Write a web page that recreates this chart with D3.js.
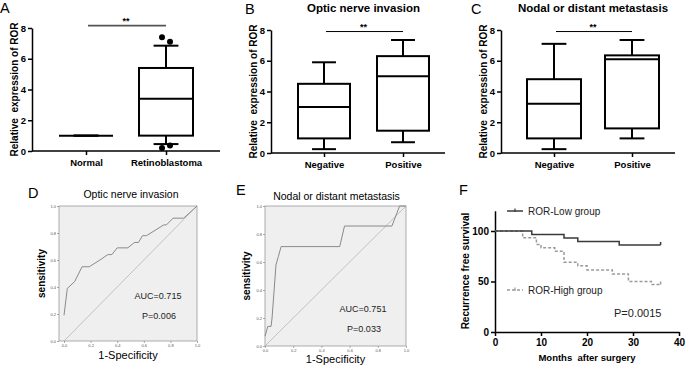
<!DOCTYPE html>
<html lang="en">
<head>
<meta charset="UTF-8">
<title>ROR expression in retinoblastoma</title>
<script src="https://d3js.org/d3.v7.min.js"></script>
<style>
  body { margin: 0; background: #fff; }
  svg { display: block; font-family: "Liberation Sans", Arial, sans-serif; }
  .pre { white-space: pre; }
</style>
</head>
<body>
<svg id="fig" width="685" height="366"></svg>
<script>
// box plots: [min, q1, median, q3, max]
const catsA = ["Normal", "Retinoblastoma"];
const boxesA = [[1, 1, 1, 1, 1], [0.45, 1.0, 3.4, 5.4, 6.85]];
const outliersA = [[], [7.4, 7.1, 0.2, 0.35]];

const catsBC = ["Negative", "Positive"];
const boxesB = [[0.25, 0.95, 3.0, 4.5, 5.9], [0.7, 1.45, 5.0, 6.3, 7.35]];
const boxesC = [[0.25, 0.95, 3.2, 4.8, 7.1], [0.95, 1.6, 6.1, 6.35, 7.35]];
const boxTicks = [0, 2, 4, 6, 8];

// ROC curves: [1-specificity, sensitivity]
const rocD = [[0, 0.19], [0.025, 0.39], [0.08, 0.44], [0.136, 0.55], [0.19, 0.55], [0.27, 0.60],
  [0.33, 0.64], [0.36, 0.64], [0.40, 0.69], [0.48, 0.69], [0.53, 0.73], [0.56, 0.73], [0.59, 0.78],
  [0.62, 0.78], [0.75, 0.86], [0.77, 0.86], [0.82, 0.91], [0.90, 0.91], [1, 1]];
const rocE = [[0, 0.07], [0.02, 0.14], [0.043, 0.14], [0.05, 0.2], [0.078, 0.58], [0.095, 0.64],
  [0.114, 0.71], [0.53, 0.71], [0.564, 0.857], [0.90, 0.857], [0.955, 1], [1, 1]];
const rocTicks = [0, 0.2, 0.4, 0.6, 0.8, 1.0];

// Kaplan-Meier: [month, % recurrence free]
const kmLow = [[0, 100], [8, 96.6], [15, 93.1], [18, 89.7], [27, 86.2], [36, 86.2]];
const kmHigh = [[0, 100], [6, 93.3], [9, 86.7], [10, 83.3], [13, 80], [15, 69], [18, 65.5],
  [20, 61.5], [25.5, 57.5], [29, 50], [34, 47], [36, 47]];
const kmXTicks = [0, 10, 20, 30, 40];
const kmYTicks = [0, 50, 100];

const svg = d3.select("#fig");

function letter(x, y, t) {
  svg.append("text").attr("x", x).attr("y", y).attr("font-size", 14.5).text(t);
}

function boxPanel(p) {
  const g = svg.append("g");
  const x = d3.scalePoint().domain(p.cats).range([p.left + p.c0, p.left + p.c1]);
  const y = d3.scaleLinear().domain([0, 8]).range([p.bottom, p.top]);

  const ya = g.append("g").attr("transform", `translate(${p.left},0)`)
    .call(d3.axisLeft(y).tickValues(boxTicks).tickSize(4).tickSizeOuter(0).tickPadding(2).tickFormat(d3.format("d")));
  const xa = g.append("g").attr("transform", `translate(0,${p.bottom})`)
    .call(d3.axisBottom(x).tickSize(4).tickPadding(4));
  xa.select(".domain").remove();
  g.append("line").attr("x1", p.left).attr("x2", p.left + p.end)
    .attr("y1", p.bottom).attr("y2", p.bottom).attr("stroke", "#000").attr("stroke-width", 1.5);
  [ya, xa].forEach(a => {
    a.selectAll("line, path").attr("stroke", "#000").attr("stroke-width", 1.5);
    a.selectAll("text").attr("font-size", 9.5).attr("font-weight", "bold")
      .attr("font-family", "Liberation Sans, Arial, sans-serif").attr("fill", "#000");
  });

  const w = p.boxW;
  p.boxes.forEach((b, i) => {
    const cx = x(p.cats[i]);
    const [mn, q1, md, q3, mx] = b;
    const s = g.append("g").attr("stroke", "#000").attr("stroke-width", 2).attr("fill", "none");
    s.append("line").attr("x1", cx).attr("x2", cx).attr("y1", y(mn)).attr("y2", y(q1));
    s.append("line").attr("x1", cx).attr("x2", cx).attr("y1", y(q3)).attr("y2", y(mx));
    s.append("line").attr("x1", cx - w * 0.23).attr("x2", cx + w * 0.23).attr("y1", y(mn)).attr("y2", y(mn));
    s.append("line").attr("x1", cx - w * 0.23).attr("x2", cx + w * 0.23).attr("y1", y(mx)).attr("y2", y(mx));
    s.append("rect").attr("x", cx - w / 2).attr("width", w).attr("y", y(q3)).attr("height", y(q1) - y(q3));
    s.append("line").attr("x1", cx - w / 2).attr("x2", cx + w / 2).attr("y1", y(md)).attr("y2", y(md));
    (p.outliers ? p.outliers[i] : []).forEach((v, j) => {
      g.append("circle").attr("cx", cx + (j % 2 ? 4 : -4)).attr("cy", y(v)).attr("r", 3).attr("fill", "#000");
    });
  });

  // significance bar
  const sy = y(p.sig);
  g.append("line").attr("x1", x(p.cats[0]) + 2).attr("x2", x(p.cats[1]))
    .attr("y1", sy).attr("y2", sy).attr("stroke", p.sigColor).attr("stroke-width", p.sigW);
  g.append("text").attr("x", (x(p.cats[0]) + x(p.cats[1])) / 2).attr("y", sy - 2)
    .attr("text-anchor", "middle").attr("font-size", 9).attr("font-weight", "bold").text("**");

  g.append("text").attr("class", "pre")
    .attr("transform", `translate(${p.left - 14},${(p.bottom + p.top) / 2}) rotate(-90)`)
    .attr("text-anchor", "middle").attr("font-size", 10).attr("font-weight", "bold")
    .text("Relative  expression of ROR");
  if (p.title) {
    g.append("text").attr("x", (x(p.cats[0]) + x(p.cats[1])) / 2).attr("y", 12)
      .attr("text-anchor", "middle").attr("font-size", 11.5).attr("font-weight", "bold").text(p.title);
  }
}

function rocPanel(p) {
  const g = svg.append("g");
  const x = d3.scaleLinear().domain([0, 1]).range([p.x0, p.right]);
  const y = d3.scaleLinear().domain([0, 1]).range([p.bottom, p.top]);
  g.append("rect").attr("x", p.left).attr("y", p.top).attr("width", p.right - p.left)
    .attr("height", p.bottom - p.top).attr("fill", "#efefef").attr("stroke", "#999").attr("stroke-width", 0.8);
  const ya = g.append("g").attr("transform", `translate(${p.left},0)`)
    .call(d3.axisLeft(y).tickValues(rocTicks).tickSize(2).tickPadding(1).tickFormat(d3.format(".1f")));
  const xa = g.append("g").attr("transform", `translate(0,${p.bottom})`)
    .call(d3.axisBottom(x).tickValues(rocTicks).tickSize(2).tickPadding(1).tickFormat(d3.format(".1f")));
  [ya, xa].forEach(a => {
    a.select(".domain").remove();
    a.selectAll("line").attr("stroke", "#777").attr("stroke-width", 0.6);
    a.selectAll("text").attr("font-size", 4).attr("fill", "#555")
      .attr("font-family", "Liberation Sans, Arial, sans-serif");
  });
  g.append("line").attr("x1", x(0)).attr("y1", y(0)).attr("x2", x(1)).attr("y2", y(1))
    .attr("stroke", "#b5b5b5").attr("stroke-width", 0.8);
  g.append("path").datum(p.data)
    .attr("d", d3.line().x(d => x(d[0])).y(d => y(d[1])))
    .attr("fill", "none").attr("stroke", "#8a8a8a").attr("stroke-width", 1);

  g.append("text").attr("x", (p.left + p.right) / 2 + p.titleDx).attr("y", p.titleY)
    .attr("text-anchor", "middle").attr("font-size", 10.5).text(p.title);
  g.append("text").attr("transform", `translate(${p.left - p.ylabDx},${(p.top + p.bottom) / 2}) rotate(-90)`)
    .attr("text-anchor", "middle").attr("font-size", 10).attr("font-weight", "bold").text("sensitivity");
  g.append("text").attr("x", (p.left + p.right) / 2).attr("y", p.xlabY)
    .attr("text-anchor", "middle").attr("font-size", 11).text("1-Specificity");
  g.append("text").attr("x", p.aucX).attr("y", p.aucY).attr("text-anchor", "middle")
    .attr("font-size", 9).attr("fill", "#222").text(p.auc);
  g.append("text").attr("x", p.aucX + 1).attr("y", p.aucY + 20).attr("text-anchor", "middle")
    .attr("font-size", 9).attr("fill", "#222").text(p.pval);
}

function kmPanel() {
  const g = svg.append("g");
  const x = d3.scaleLinear().domain([0, 40]).range([495, 679]);
  const y = d3.scaleLinear().domain([0, 120]).range([332, 210.8]);
  const ya = g.append("g").attr("transform", "translate(495,0)")
    .call(d3.axisLeft(y).tickValues(kmYTicks).tickSize(4).tickSizeOuter(0).tickPadding(2));
  const xa = g.append("g").attr("transform", "translate(0,332)")
    .call(d3.axisBottom(x).tickValues(kmXTicks).tickSize(4).tickSizeOuter(0).tickPadding(3));
  [ya, xa].forEach(a => {
    a.selectAll("line, path").attr("stroke", "#000").attr("stroke-width", 1.5);
    a.selectAll("text").attr("font-size", 10).attr("font-weight", "bold")
      .attr("font-family", "Liberation Sans, Arial, sans-serif").attr("fill", "#000");
  });
  const line = d3.line().x(d => x(d[0])).y(d => y(d[1])).curve(d3.curveStepAfter);
  const series = [
    { data: kmHigh, color: "#9a9a9a", dash: "3,2", name: "ROR-High group", ly: 290 },
    { data: kmLow, color: "#3a3a3a", dash: null, name: "ROR-Low group", ly: 211 }
  ];
  series.forEach(s => {
    g.append("path").datum(s.data).attr("d", line).attr("fill", "none")
      .attr("stroke", s.color).attr("stroke-width", 1.5).attr("stroke-dasharray", s.dash);
    const last = s.data[s.data.length - 1];
    g.append("line").attr("x1", x(last[0])).attr("x2", x(last[0]))
      .attr("y1", y(last[1])).attr("y2", y(last[1]) - 3).attr("stroke", s.color).attr("stroke-width", 1.5);
    g.append("line").attr("x1", 507).attr("x2", 523).attr("y1", s.ly).attr("y2", s.ly)
      .attr("stroke", s.color).attr("stroke-width", 1.5).attr("stroke-dasharray", s.dash);
    g.append("line").attr("x1", 515).attr("x2", 515).attr("y1", s.ly - 2.5).attr("y2", s.ly + 1)
      .attr("stroke", s.color).attr("stroke-width", 1.2);
    g.append("text").attr("x", 528).attr("y", s.ly + 3.5).attr("font-size", 10).attr("fill", "#222").text(s.name);
  });
  g.append("text").attr("x", 614).attr("y", 317).attr("font-size", 11).attr("fill", "#222").text("P=0.0015");
  g.append("text").attr("transform", "translate(469,271) rotate(-90)").attr("text-anchor", "middle")
    .attr("font-size", 10).attr("font-weight", "bold").text("Recurrence free survival");
  g.append("text").attr("class", "pre").attr("x", 587).attr("y", 361).attr("text-anchor", "middle")
    .attr("font-size", 9.5).attr("font-weight", "bold").text("Months  after surgery");
}

boxPanel({ left: 32, c0: 54, c1: 134, end: 188, bottom: 151, top: 28, boxW: 54,
  cats: catsA, boxes: boxesA, outliers: outliersA, sig: 8.15, sigColor: "#555", sigW: 1.8 });
boxPanel({ left: 271, c0: 53, c1: 132, end: 174, bottom: 153, top: 30, boxW: 52,
  cats: catsBC, boxes: boxesB, sig: 7.9, sigColor: "#000", sigW: 1, title: "Optic nerve invasion" });
boxPanel({ left: 501, c0: 53, c1: 131, end: 174, bottom: 153, top: 30, boxW: 54,
  cats: catsBC, boxes: boxesC, sig: 7.9, sigColor: "#000", sigW: 1, title: "Nodal or distant metastasis" });

rocPanel({ left: 59, x0: 64, right: 197, top: 206, bottom: 341, data: rocD, title: "Optic nerve invasion",
  titleDx: 3, titleY: 198, ylabDx: 14, xlabY: 359, auc: "AUC=0.715", pval: "P=0.006", aucX: 158, aucY: 299 });
rocPanel({ left: 265, x0: 265, right: 406, top: 206, bottom: 346, data: rocE, title: "Nodal or distant metastasis",
  titleDx: 1, titleY: 200, ylabDx: 15, xlabY: 363, auc: "AUC=0.751", pval: "P=0.033", aucX: 363, aucY: 312 });
kmPanel();

letter(0, 13, "A");
letter(245, 14, "B");
letter(471, 14, "C");
letter(28, 198, "D");
letter(236, 195, "E");
letter(459, 195, "F");
</script>
</body>
</html>
